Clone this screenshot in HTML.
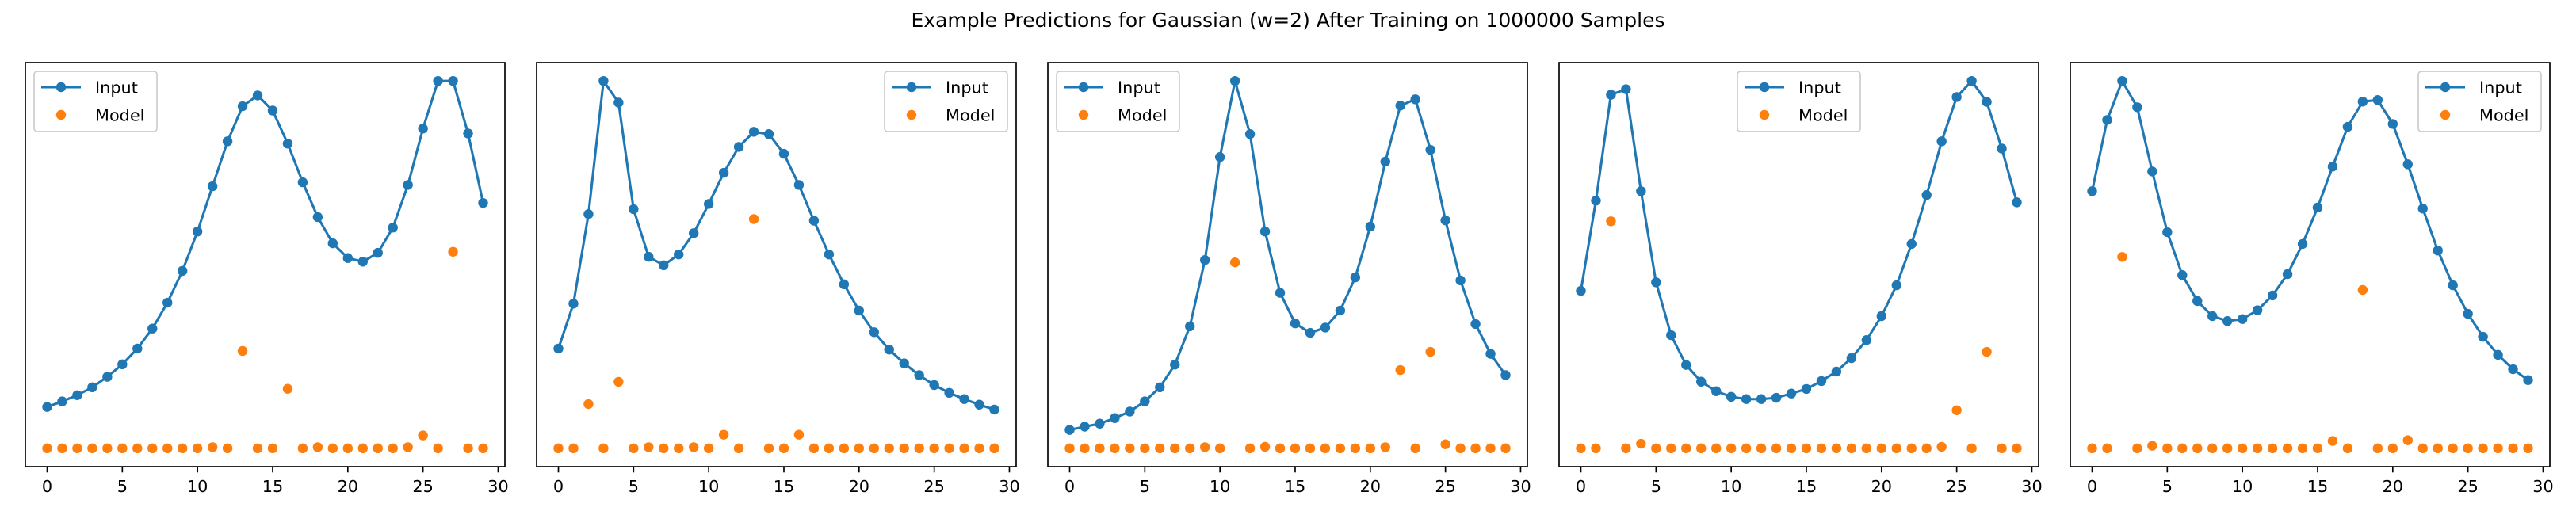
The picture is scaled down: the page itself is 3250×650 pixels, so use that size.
<!DOCTYPE html>
<html><head><meta charset="utf-8"><style>
html,body{margin:0;padding:0;background:#fff;}
svg{display:block;font-family:"DejaVu Sans","Liberation Sans",sans-serif;}
</style></head><body>
<svg id="chart" width="3250" height="650" viewBox="0 0 3250 650" xmlns="http://www.w3.org/2000/svg">
<rect width="3250" height="650" fill="#fff"/>
<text x="1625" y="34" text-anchor="middle" font-size="25" fill="#000">Example Predictions for Gaussian (w=2) After Training on 1000000 Samples</text>
</svg>
<script>
const xTicks = [0, 5, 10, 15, 20, 25, 30];
const input1 = [.1125,.1277,.1446,.1661,.1946,.2286,.2714,.3259,.3964,.4830,.5902,.7134,.8357,.9313,.9607,.9196,.8295,.7241,.6295,.5580,.5179,.5080,.5321,.6009,.7170,.8705,1,1,.8571,.6679];
const model1 = [0,0,0,0,0,0,0,0,0,0,0,.003,0,.265,0,0,.162,0,.003,0,0,0,0,0,.003,.035,0,.535,0,0];
const input2 = [.2714,.3938,.6375,1,.9411,.6509,.5214,.4982,.5277,.5857,.6652,.75,.8205,.8616,.8554,.8018,.717,.6196,.5277,.4464,.375,.3161,.2688,.2313,.1991,.1723,.1509,.1339,.1188,.1054];
const model2 = [0,0,.1205,0,.181,0,.003,0,0,.003,0,.037,0,.624,0,0,.037,0,0,0,0,0,0,0,0,0,0,0,0,0];
const input3 = [.05,.0589,.067,.0821,.1,.1277,.1661,.2277,.3321,.5125,.7929,1,.8554,.5902,.4232,.3402,.3143,.3286,.375,.4652,.6036,.7804,.933,.95,.8125,.6205,.4571,.3384,.2571,.1991];
const model3 = [0,0,0,0,0,0,0,0,0,.003,0,.506,0,.004,0,0,0,0,0,0,0,.003,.213,0,.2625,.011,0,0,0,0];
const input4 = [.4286,.6741,.9625,.9777,.7,.4518,.308,.2268,.1813,.1554,.1402,.1339,.1339,.1375,.1491,.1616,.183,.2089,.2455,.2946,.3598,.4438,.5563,.6893,.8357,.9563,1,.9429,.8161,.6696];
const model4 = [0,0,.618,0,.0125,0,0,0,0,0,0,0,0,0,0,0,0,0,0,0,0,0,0,0,.004,.1036,0,.2625,0,0];
const input5 = [.7,.8938,1,.9286,.7536,.5884,.4714,.4009,.3598,.3464,.3518,.3759,.4161,.4741,.5563,.6554,.767,.875,.9438,.9482,.883,.7732,.6527,.5384,.4438,.3661,.3036,.2545,.2152,.1857];
const model5 = [0,0,.521,0,.007,0,0,0,0,0,0,0,0,0,0,0,.02,0,.431,0,0,.022,0,0,0,0,0,0,0,0];
const legendLocs = ['left','right','left','center','right'];

const NS = 'http://www.w3.org/2000/svg';
const svg = document.getElementById('chart');
function mk(tag, attrs, parent){
  const e = document.createElementNS(NS, tag);
  for (const k in attrs) e.setAttribute(k, attrs[k]);
  (parent||svg).appendChild(e);
  return e;
}
const inputs = [input1,input2,input3,input4,input5];
const models = [model1,model2,model3,model4,model5];
const PW = 605, TOP = 79, BOT = 589, BLUE = '#1f77b4', ORANGE = '#ff7f0e';

for (let p = 0; p < 5; p++) {
  const L = 32 + p * 645, R = L + PW;
  const inp = inputs[p], mod = models[p];
  const n = inp.length;
  const all = inp.concat(mod);
  const mn = Math.min(...all), mx = Math.max(...all);
  const span = mx - mn || 1;
  const y0 = mn - span * 0.05, y1 = mx + span * 0.05;
  const x0 = -1.45, x1 = 30.45;
  const sx = v => L + (v - x0) / (x1 - x0) * PW;
  const sy = v => BOT - (v - y0) / (y1 - y0) * (BOT - TOP);

  const g = mk('g', {});
  
  

  // x ticks
  xTicks.forEach(t => {
    const x = sx(t);
    const tk = mk('line', {x1:x, x2:x, y1:BOT, y2:BOT+7.3, stroke:'#000', 'stroke-width':1.67}, g);
    
    
    const tl = mk('text', {x:x, y:621, 'text-anchor':'middle', 'font-size':20.8, fill:'#000'}, g);
    tl.textContent = t;
    
    
  });

  // input line
  const pts = inp.map((v, i) => sx(i).toFixed(2) + ',' + sy(v).toFixed(2)).join(' ');
  const line = mk('polyline', {points:pts, fill:'none', stroke:BLUE, 'stroke-width':3.1, 'stroke-linejoin':'round'}, g);
  
  
  inp.forEach((v, i) => {
    const c = mk('circle', {cx:sx(i), cy:sy(v), r:6.2, fill:BLUE}, g);
    
    
  });
  mod.forEach((v, i) => {
    const c = mk('circle', {cx:sx(i), cy:sy(v), r:6.2, fill:ORANGE}, g);
    
    
  });

  // frame
  const fr = mk('rect', {x:L, y:TOP, width:PW, height:BOT-TOP, fill:'none', stroke:'#000', 'stroke-width':1.67}, g);
  
  

  // legend
  const LW = 155, LH = 76;
  let lx;
  if (legendLocs[p] === 'left') lx = L + 11;
  else if (legendLocs[p] === 'right') lx = R - 11 - LW;
  else lx = L + (PW - LW) / 2;
  const ly = TOP + 11;
  const lg = mk('g', {}, g);
  
  
  mk('rect', {x:lx, y:ly, width:LW, height:LH, rx:4, fill:'#fff', 'fill-opacity':0.8, stroke:'#cccccc', 'stroke-width':1.67}, lg);
  const e1 = mk('g', {}, lg);
  
  
  mk('line', {x1:lx+9, x2:lx+59, y1:ly+20, y2:ly+20, stroke:BLUE, 'stroke-width':3.1}, e1);
  mk('circle', {cx:lx+34, cy:ly+20, r:6.2, fill:BLUE}, e1);
  const t1 = mk('text', {x:lx+77, y:ly+27.5, 'font-size':20.8, fill:'#000'}, e1);
  t1.textContent = 'Input';
  const e2 = mk('g', {}, lg);
  
  
  mk('circle', {cx:lx+34, cy:ly+55, r:6.2, fill:ORANGE}, e2);
  const t2 = mk('text', {x:lx+77, y:ly+62.5, 'font-size':20.8, fill:'#000'}, e2);
  t2.textContent = 'Model';
}
</script>
</body></html>
